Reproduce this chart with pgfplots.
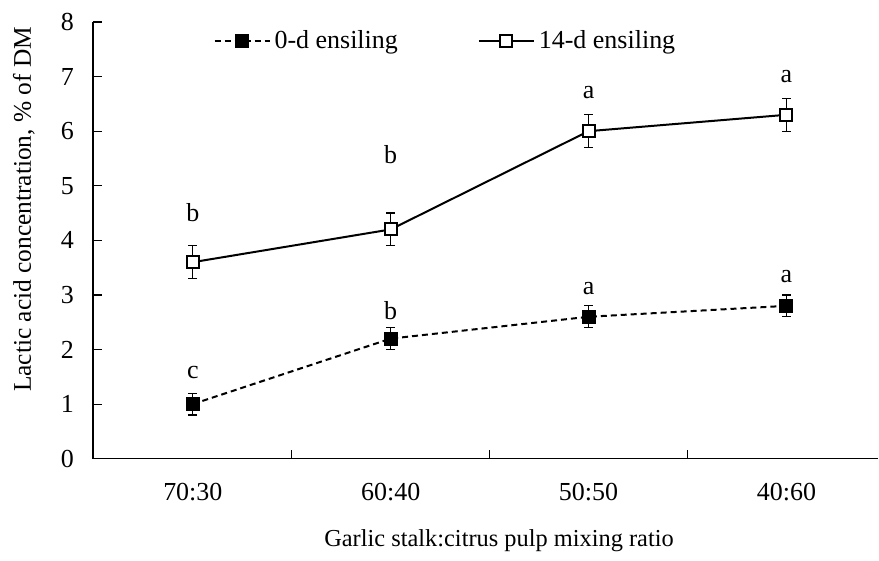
\documentclass[border=0pt]{standalone}
\usepackage{pgfplots}
\pgfplotsset{compat=1.18}
\usepackage{fontspec}
\setmainfont{Liberation Serif}
\begin{document}
\fontsize{13}{15}\selectfont
\begin{tikzpicture}
\begin{axis}[
  at={(0,0)}, anchor=south west,
  scale only axis, width=393pt, height=218.5pt,
  xmin=-0.505, xmax=3.465, ymin=0, ymax=8,
  axis x line*=bottom, axis y line*=left,
  axis line style={black, line width=0.6pt},
  tick align=inside,
  ytick={0,1,...,8},
  xtick={0.5,1.5,2.5}, xticklabels={},
  extra x ticks={0,1,2,3},
  extra x tick labels={70:30,60:40,50:50,40:60},
  extra x tick style={major tick length=0pt, xticklabel style={yshift=-7.5pt}},
  major tick length=4.5pt,
  tick style={black, line width=0.6pt},
  yticklabel style={xshift=-5pt},
  /pgf/number format/assume math mode=true,
  xlabel={Garlic stalk:citrus pulp mixing ratio},
  xlabel style={at={(axis description cs:0.517,-0.1876)}, anchor=center, font=\fontsize{12.2}{14}\selectfont},
  ylabel={Lactic acid concentration, \% of DM},
  ylabel style={at={(axis description cs:-0.0878,0.571)}, anchor=center, font=\fontsize{12.7}{14}\selectfont},
  legend style={at={(0.45,1.0)}, anchor=north, draw=none, fill=none,
    legend columns=2, /tikz/every even column/.append style={column sep=38pt},
    font=\fontsize{13}{15}\selectfont},
  legend cell align=left,
  legend image code/.code={\draw[#1, mark repeat=2, mark phase=2] plot coordinates {(0pt,0pt) (13.75pt,0pt) (27.5pt,0pt)};},
]
\addplot[black, line width=1pt, dash pattern=on 3pt off 2pt,
  mark=square*, mark size=3pt, mark options={solid, fill=black},
  error bars/.cd, y dir=both, y explicit,
  error bar style={solid, line width=0.6pt},
  error mark options={rotate=90, mark size=2.2pt, line width=0.6pt}]
  table[x=x, y=y, y error=e] {
x y e
0 1.0 0.2
1 2.2 0.2
2 2.6 0.2
3 2.8 0.2
};
\addlegendentry{0-d ensiling}
\addplot[black, line width=1pt,
  mark=square*, mark size=3pt, mark options={solid, fill=white},
  error bars/.cd, y dir=both, y explicit,
  error bar style={solid, line width=0.6pt},
  error mark options={rotate=90, mark size=2.2pt, line width=0.6pt}]
  table[x=x, y=y, y error=e] {
x y e
0 3.6 0.3
1 4.2 0.3
2 6.0 0.3
3 6.3 0.3
};
\addlegendentry{14-d ensiling}
\addplot[draw=none, mark=none, forget plot, nodes near coords,
  point meta=explicit symbolic,
  every node near coord/.append style={anchor=center, inner sep=0pt, font=\fontsize{13}{15}\selectfont}]
  table[x=x, y=y, meta=l] {
x y l
0 1.57 c
1 2.71 b
2 3.11 a
3 3.33 a
0 4.50 b
1 5.57 b
2 6.70 a
3 7.01 a
};
\end{axis}
\path[use as bounding box] (-46.5pt,-48pt) rectangle (393pt,229.5pt);
\end{tikzpicture}
\end{document}
